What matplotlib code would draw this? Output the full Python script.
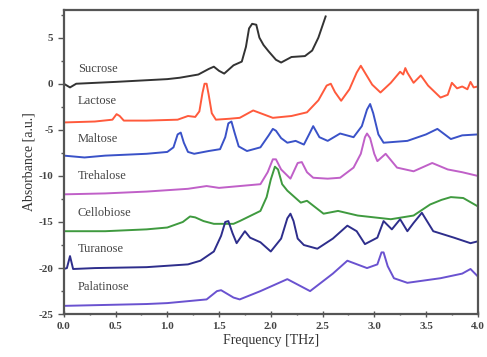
import matplotlib
matplotlib.use('Agg')
import matplotlib.pyplot as plt
from matplotlib.ticker import MultipleLocator

plt.rcParams['font.family'] = ['Liberation Serif', 'DejaVu Serif']

# spectra (frequency THz, absorbance a.u. with offsets)
suc_f = [0.0, 0.06, 0.12, 0.5, 1.0, 1.12, 1.3, 1.4, 1.45, 1.5, 1.55, 1.64, 1.72, 1.76, 1.79, 1.82, 1.86, 1.89, 1.93, 1.98, 2.05, 2.1, 2.2, 2.33, 2.4, 2.46, 2.53]
suc_v = [0.0, -0.4, 0.0, 0.2, 0.5, 0.65, 1.0, 1.6, 1.85, 1.4, 1.1, 2.0, 2.4, 4.0, 6.0, 6.5, 6.4, 5.0, 4.2, 3.5, 2.6, 2.3, 2.9, 3.0, 3.6, 5.0, 7.3]

lac_f = [0.0, 0.3, 0.47, 0.51, 0.54, 0.58, 0.8, 1.1, 1.2, 1.27, 1.31, 1.34, 1.36, 1.38, 1.40, 1.43, 1.47, 1.6, 1.7, 1.83, 2.02, 2.2, 2.35, 2.46, 2.54, 2.58, 2.62, 2.68, 2.76, 2.83, 2.87, 2.91, 2.98, 3.06, 3.16, 3.25, 3.28, 3.30, 3.32, 3.38, 3.45, 3.52, 3.64, 3.71, 3.75, 3.8, 3.85, 3.9, 3.93, 3.96, 4.0]
lac_v = [-4.2, -4.1, -3.9, -3.3, -3.5, -4.0, -4.0, -3.9, -3.5, -3.6, -3.0, -1.0, 0.0, 0.0, -1.2, -3.2, -3.9, -3.8, -3.7, -2.9, -3.7, -3.5, -3.1, -1.8, -0.2, 0.0, -0.9, -1.85, -0.6, 1.2, 1.95, 1.2, -0.1, -0.95, 0.1, 1.3, 1.0, 1.7, 1.2, 0.1, 0.9, -0.2, -1.5, -1.2, 0.1, -0.5, -0.3, -0.6, 0.2, -0.4, -0.3]

mal_f = [0.0, 0.2, 0.4, 0.8, 1.0, 1.06, 1.1, 1.13, 1.16, 1.2, 1.26, 1.4, 1.51, 1.56, 1.59, 1.62, 1.65, 1.69, 1.77, 1.9, 1.98, 2.02, 2.05, 2.1, 2.16, 2.24, 2.32, 2.37, 2.41, 2.47, 2.55, 2.67, 2.8, 2.88, 2.93, 2.96, 2.99, 3.04, 3.09, 3.32, 3.5, 3.61, 3.74, 3.85, 4.0]
mal_v = [-7.8, -8.0, -7.8, -7.6, -7.4, -6.9, -5.5, -5.3, -6.4, -7.4, -7.6, -7.3, -7.1, -5.8, -4.3, -4.1, -5.3, -6.8, -7.3, -6.9, -5.6, -4.9, -5.1, -5.9, -6.4, -6.2, -6.6, -5.5, -4.6, -5.8, -6.2, -5.4, -5.8, -4.6, -2.8, -2.2, -3.2, -5.5, -6.4, -6.2, -5.5, -4.9, -6.0, -5.6, -5.5]

tre_f = [0.0, 0.4, 0.8, 1.2, 1.38, 1.5, 1.9, 1.97, 2.02, 2.05, 2.1, 2.19, 2.26, 2.3, 2.35, 2.41, 2.55, 2.67, 2.8, 2.87, 2.91, 2.93, 2.96, 3.0, 3.03, 3.11, 3.22, 3.38, 3.56, 3.71, 3.85, 4.0]
tre_v = [-12.0, -11.9, -11.7, -11.4, -11.1, -11.3, -10.9, -9.6, -8.2, -8.2, -9.3, -10.3, -8.6, -8.5, -9.6, -10.2, -10.3, -10.2, -9.1, -7.6, -5.8, -5.4, -5.9, -7.6, -8.4, -7.6, -9.1, -9.5, -8.6, -9.3, -9.6, -10.0]

cel_f = [0.0, 0.4, 0.8, 1.0, 1.15, 1.22, 1.27, 1.35, 1.45, 1.64, 1.7, 1.9, 1.96, 2.0, 2.04, 2.07, 2.11, 2.16, 2.29, 2.35, 2.51, 2.65, 2.84, 3.16, 3.38, 3.54, 3.65, 3.74, 3.86, 4.0]
cel_v = [-16.0, -16.0, -15.8, -15.6, -15.0, -14.4, -14.5, -14.9, -15.2, -15.2, -14.9, -13.8, -12.3, -10.4, -9.0, -9.3, -10.9, -11.6, -12.9, -12.7, -14.1, -13.8, -14.3, -14.7, -14.3, -13.1, -12.6, -12.3, -12.4, -13.3]

tur_f = [0.0, 0.03, 0.06, 0.09, 0.3, 0.8, 1.2, 1.32, 1.45, 1.52, 1.56, 1.59, 1.63, 1.67, 1.75, 1.8, 1.9, 2.0, 2.1, 2.16, 2.19, 2.22, 2.26, 2.32, 2.45, 2.6, 2.74, 2.83, 2.91, 3.03, 3.09, 3.17, 3.25, 3.32, 3.38, 3.46, 3.57, 3.77, 3.93, 4.0]
tur_v = [-20.1, -20.0, -18.7, -20.1, -20.0, -19.9, -19.6, -19.2, -18.2, -16.5, -15.0, -14.9, -16.2, -17.3, -16.0, -16.7, -17.2, -18.2, -16.8, -14.6, -14.1, -14.9, -16.8, -17.5, -17.9, -16.8, -15.4, -16.0, -17.4, -16.7, -14.9, -15.8, -14.7, -16.0, -15.1, -14.0, -16.0, -16.7, -17.3, -17.1]

pal_f = [0.0, 0.4, 0.8, 1.0, 1.38, 1.48, 1.52, 1.64, 1.7, 1.9, 2.16, 2.38, 2.6, 2.74, 2.93, 3.03, 3.07, 3.09, 3.13, 3.19, 3.32, 3.64, 3.85, 3.93, 4.0]
pal_v = [-24.1, -24.0, -23.9, -23.8, -23.4, -22.5, -22.4, -23.2, -23.4, -22.5, -21.2, -22.5, -20.6, -19.2, -20.0, -19.6, -18.3, -18.3, -19.8, -21.1, -21.6, -21.1, -20.6, -20.1, -20.9]

names = ['Sucrose', 'Lactose', 'Maltose', 'Trehalose', 'Cellobiose', 'Turanose', 'Palatinose']
label_y = [1.6, -1.85, -6.0, -10.0, -14.0, -17.9, -22.0]
colors = ['#333333', '#ff5a3c', '#3a52c8', '#c060c8', '#3f9a3f', '#2e2e8c', '#6a52d0']

fig = plt.figure(figsize=(4.87, 3.57), dpi=100)
ax = fig.add_axes([0.131, 0.12, 0.85, 0.852])

spectra = [(suc_f, suc_v), (lac_f, lac_v), (mal_f, mal_v), (tre_f, tre_v),
           (cel_f, cel_v), (tur_f, tur_v), (pal_f, pal_v)]
for (f, v), c in zip(spectra, colors):
    ax.plot(f, v, color=c, lw=1.4, solid_joinstyle='round')

for n, y in zip(names, label_y):
    ax.text(0.135, y, n, fontsize=9, color='#444444', va='center', ha='left')

ax.set_xlim(0, 4.0)
ax.set_ylim(-25, 8)
ax.xaxis.set_minor_locator(MultipleLocator(0.25))
ax.yaxis.set_minor_locator(MultipleLocator(2.5))
ax.tick_params(which='major', direction='out', length=4, width=1, colors='#555555',
               labelsize=8, labelcolor='#444444')
ax.tick_params(which='minor', direction='out', length=2, width=1, colors='#555555')
ax.tick_params(axis='x', which='both', direction='inout')
for sp in ax.spines.values():
    sp.set_color('#555555')
    sp.set_linewidth(1.6)

ax.set_xticks([0, 0.5, 1.0, 1.5, 2.0, 2.5, 3.0, 3.5, 4.0])
ax.set_xticklabels(['0.0', '0.5', '1.0', '1.5', '2.0', '2.5', '3.0', '3.5', '4.0'], fontweight='bold')
ax.set_yticks([-25, -20, -15, -10, -5, 0, 5])
ax.set_yticklabels(['-25', '-20', '-15', '-10', '-5', '0', '5'], fontweight='bold')
ax.set_xlabel('Frequency [THz]', fontsize=10, color='#333333', labelpad=2)
ax.set_ylabel('Absorbance [a.u.]', fontsize=10, color='#333333', labelpad=2)

fig.savefig('out.png', dpi=100)
